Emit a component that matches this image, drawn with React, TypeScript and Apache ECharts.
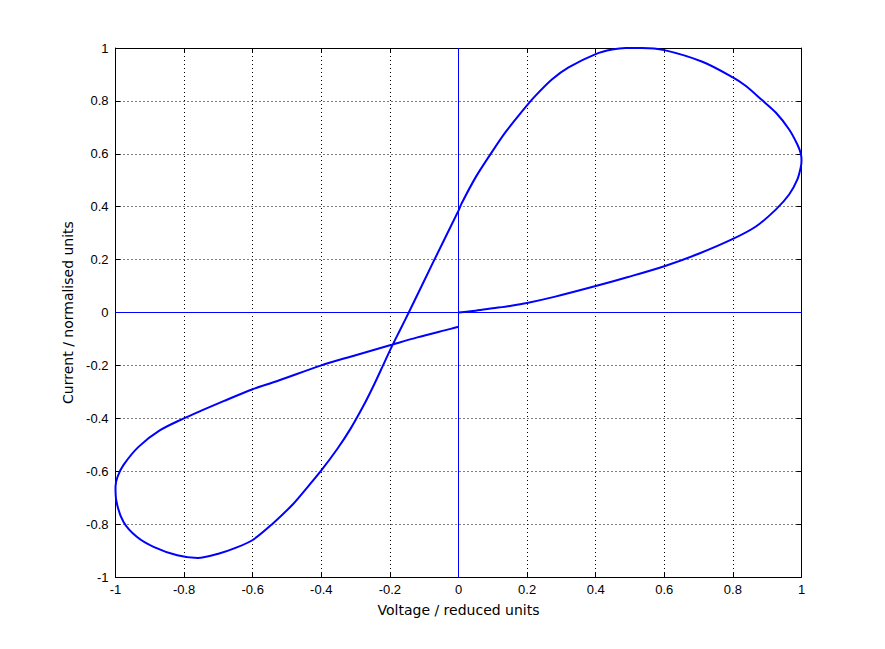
import React, { useEffect, useRef } from "react";
import * as echarts from "echarts";

// Hysteresis curve points [voltage, current], read in drawing order
const lowerRight: [number, number][] = [
  [0, 0], [0.05, 0.007], [0.1, 0.016], [0.15, 0.025], [0.2, 0.036], [0.282, 0.06],
  [0.4, 0.1], [0.497, 0.135], [0.6, 0.175], [0.7, 0.222], [0.8, 0.278], [0.867, 0.325],
  [0.925, 0.389], [0.964, 0.446], [0.988, 0.503], [0.998, 0.55], [1.0, 0.575], [0.998, 0.6],
];
const upperRight: [number, number][] = [
  [0.988, 0.635], [0.964, 0.692], [0.925, 0.756], [0.884, 0.804], [0.837, 0.857],
  [0.8, 0.889], [0.711, 0.948], [0.6, 0.992], [0.535, 1.0], [0.487, 1.0],
  [0.448, 0.994], [0.4, 0.977], [0.321, 0.927], [0.273, 0.882], [0.224, 0.819],
  [0.19, 0.768], [0.136, 0.68], [0.0925, 0.597], [0.049, 0.509], [0.0097, 0.414],
];
const steepLeft: [number, number][] = [
  [0, 0.385], [-0.072, 0.195], [-0.145, 0], [-0.17, -0.065], [-0.195, -0.13],
  [-0.22, -0.2], [-0.247, -0.275], [-0.276, -0.35], [-0.315, -0.44],
  [-0.353, -0.515], [-0.4, -0.597], [-0.44, -0.66], [-0.482, -0.724],
  [-0.545, -0.802], [-0.6, -0.86], [-0.65, -0.89], [-0.7, -0.912],
  [-0.76, -0.928], [-0.82, -0.918], [-0.889, -0.886], [-0.938, -0.848],
  [-0.977, -0.791], [-0.998, -0.709], [-1.0, -0.659],
];
const returnLeft: [number, number][] = [
  [-0.994, -0.621], [-0.977, -0.577], [-0.933, -0.508], [-0.87, -0.445],
  [-0.802, -0.401], [-0.75, -0.371], [-0.685, -0.335], [-0.6, -0.29],
  [-0.53, -0.26], [-0.4, -0.2], [-0.315, -0.167], [-0.2, -0.124],
  [-0.12, -0.094], [-0.023, -0.062], [0, -0.054],
];
const zeroH: [number, number][] = [[-1, 0], [1, 0]];
const zeroV: [number, number][] = [[0, -1], [0, 1]];

const xName = "Voltage / reduced units";
const yName = "Current / normalised units";
const axisMin = -1;
const axisMax = 1;
const tickStep = 0.2;

const FONT = "'Liberation Sans', Arial, Helvetica, sans-serif";
const NAME_FONT = "'DejaVu Sans', sans-serif";

export default function App() {
  const ref = useRef<HTMLDivElement>(null);
  useEffect(() => {
    if (!ref.current) return;
    const chart = echarts.init(ref.current, undefined, { renderer: "svg" });
    const fmt = (v: number) => String(Math.round(v * 10) / 10);
    const baseAxis = {
      type: "value" as const,
      min: axisMin,
      max: axisMax,
      interval: tickStep,
      axisLine: { show: true, onZero: false, lineStyle: { color: "#000", width: 1 } },
      axisTick: { show: true, inside: true, length: 5, lineStyle: { color: "#000" } },
    };
    chart.setOption({
      animation: false,
      backgroundColor: "#fff",
      grid: { left: 115.5, top: 48, right: 83.5, bottom: 72, containLabel: false },
      xAxis: [
        {
          ...baseAxis,
          position: "bottom",
          name: xName,
          nameLocation: "middle",
          nameGap: 26,
          nameTextStyle: { fontFamily: NAME_FONT, fontSize: 14, color: "#000" },
          axisLabel: { formatter: fmt, fontFamily: FONT, fontSize: 13, color: "#000", margin: 6 },
          splitLine: { show: true, lineStyle: { color: "#000", type: [1, 3], width: 1 } },
        },
        {
          ...baseAxis,
          position: "top",
          axisLabel: { show: false },
          splitLine: { show: false },
        },
      ],
      yAxis: [
        {
          ...baseAxis,
          position: "left",
          name: yName,
          nameLocation: "middle",
          nameGap: 39,
          nameTextStyle: { fontFamily: NAME_FONT, fontSize: 14, color: "#000" },
          axisLabel: { formatter: fmt, fontFamily: FONT, fontSize: 13, color: "#000", margin: 7 },
          splitLine: { show: true, lineStyle: { color: "#000", type: [1, 3], width: 1 } },
        },
        {
          ...baseAxis,
          position: "right",
          axisLabel: { show: false },
          splitLine: { show: false },
        },
      ],
      series: [
        {
          type: "line",
          data: zeroH,
          symbol: "none",
          lineStyle: { color: "#0000ff", width: 1 },
          silent: true,
        },
        {
          type: "line",
          data: zeroV,
          symbol: "none",
          lineStyle: { color: "#0000ff", width: 1 },
          silent: true,
        },
        {
          type: "line",
          data: [...lowerRight, ...upperRight, ...steepLeft, ...returnLeft],
          symbol: "none",
          smooth: 0.3,
          lineStyle: { color: "#0000ff", width: 2 },
        },
      ],
    });
    return () => chart.dispose();
  }, []);
  return (
    <div
      ref={ref}
      style={{ position: "fixed", left: 0, top: 0, width: 885, height: 649, background: "#fff" }}
    />
  );
}
